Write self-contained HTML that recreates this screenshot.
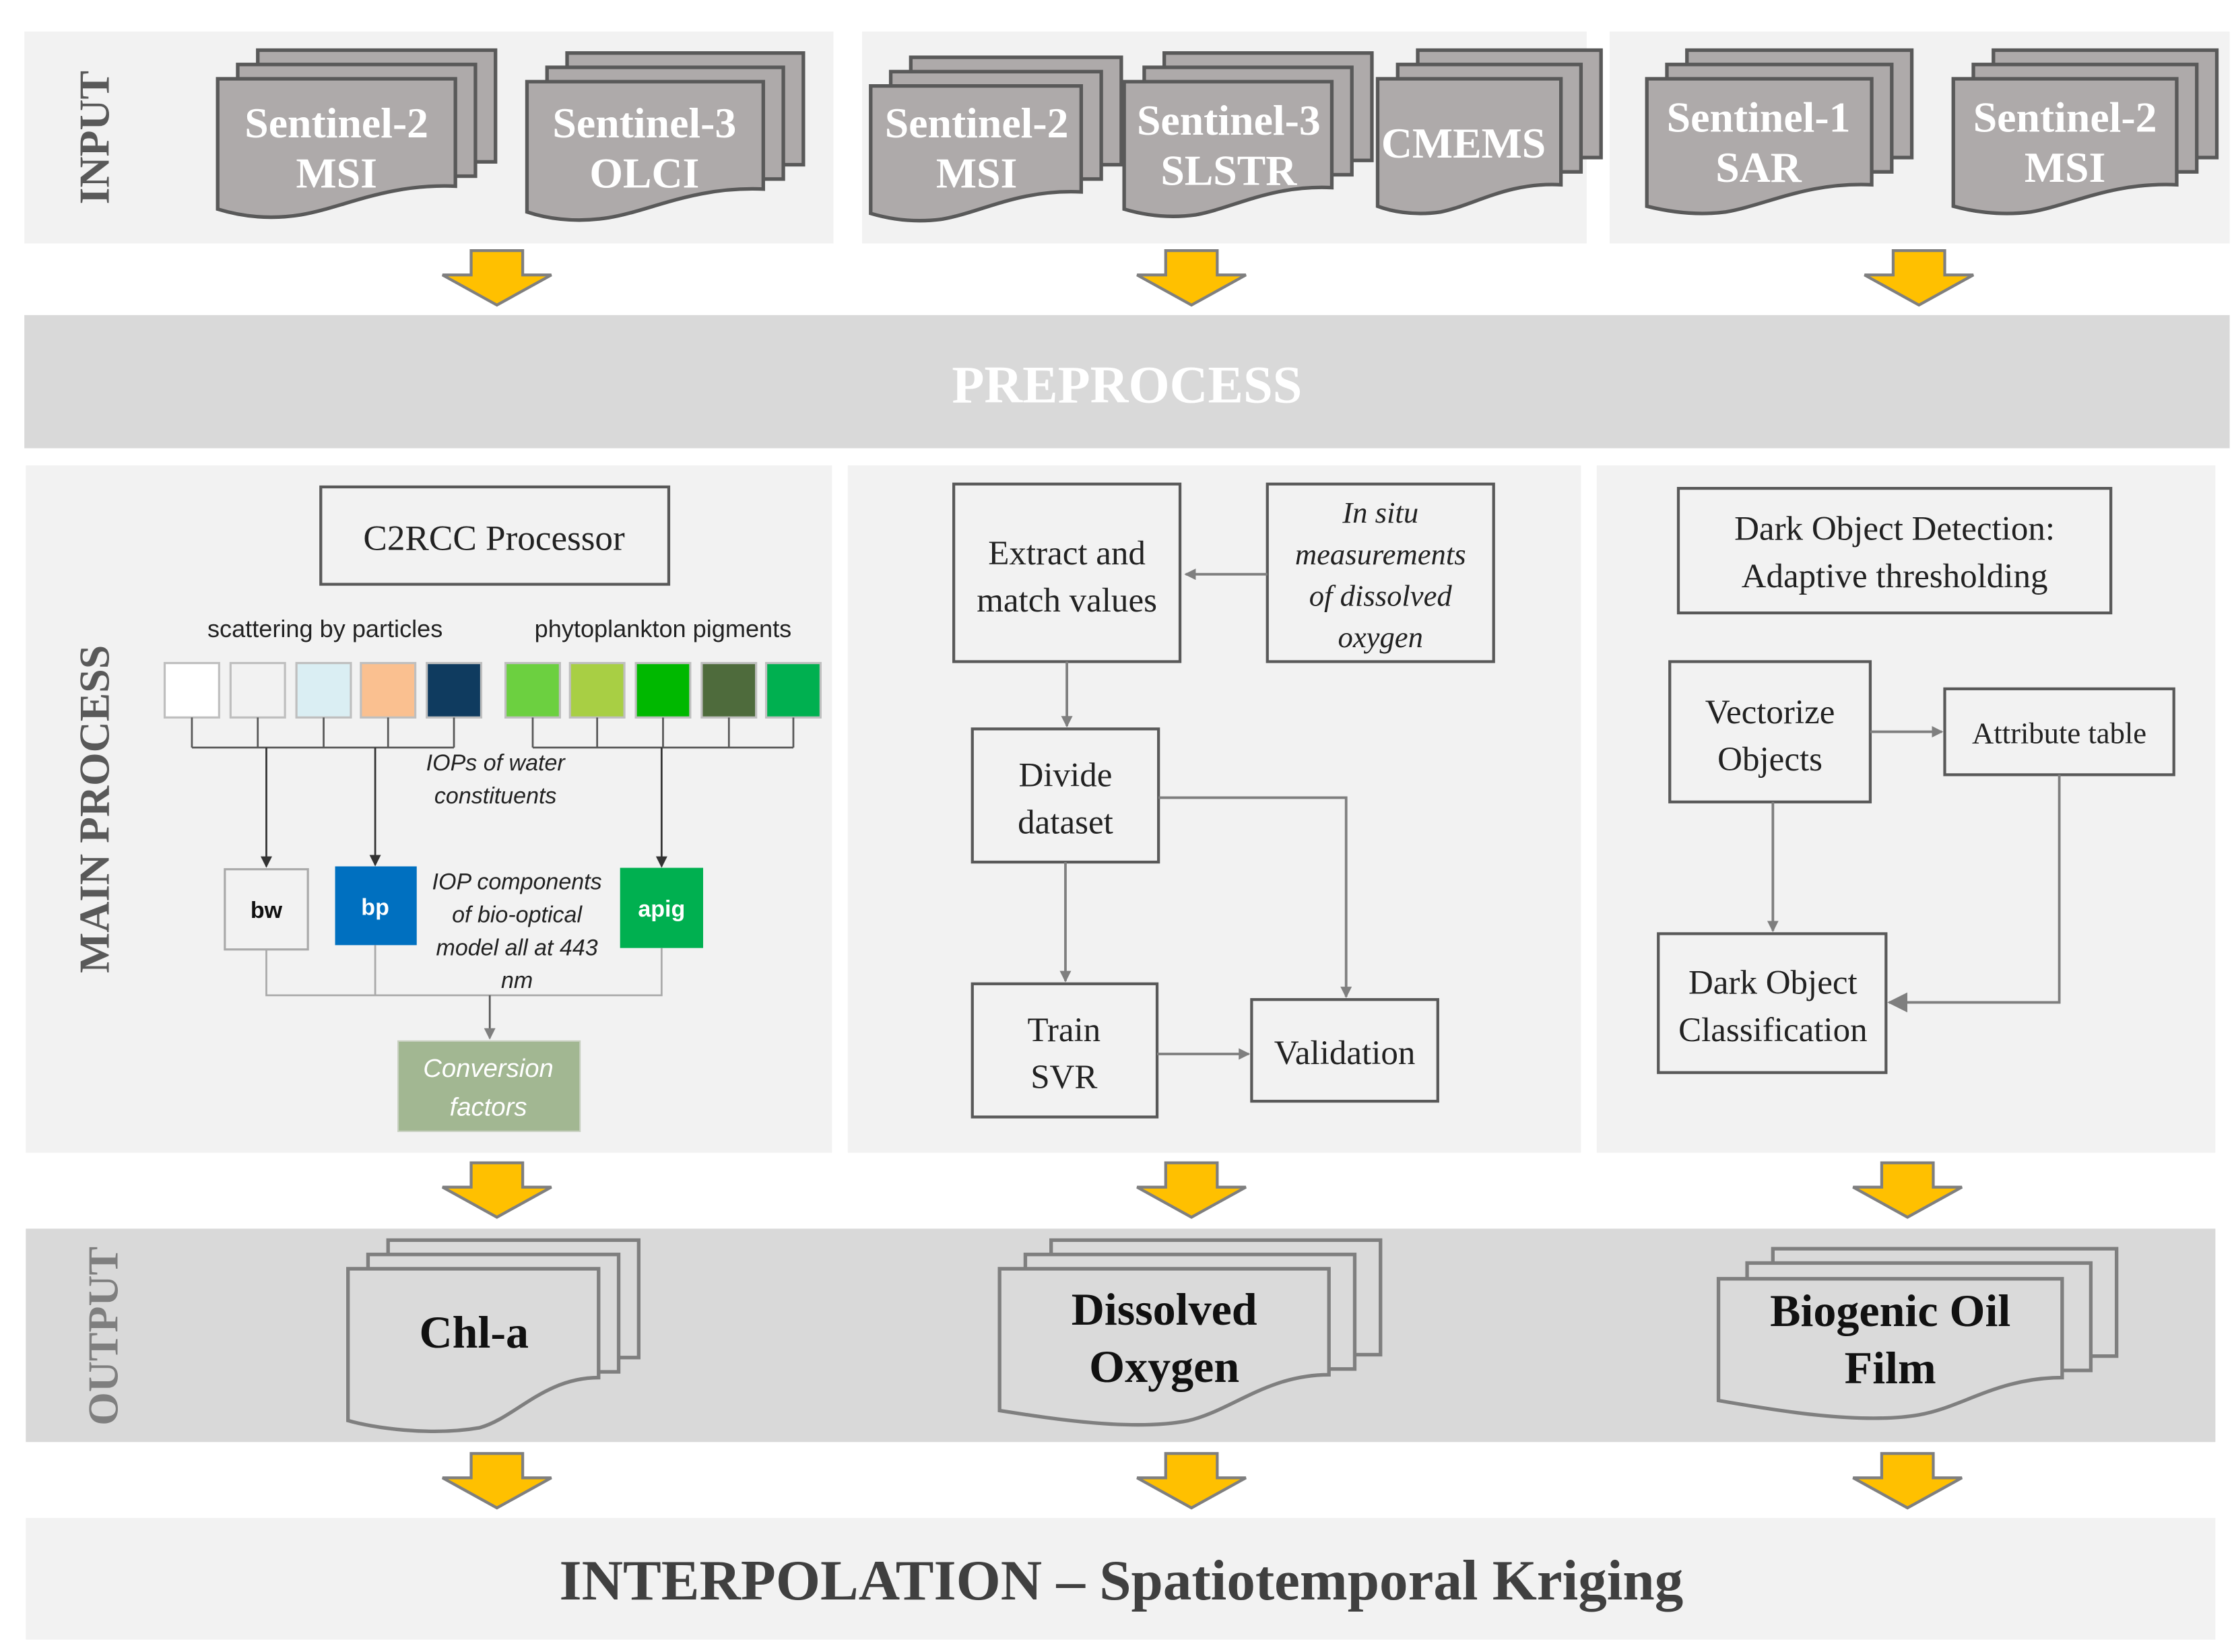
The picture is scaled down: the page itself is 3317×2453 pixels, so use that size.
<!DOCTYPE html>
<html><head><meta charset="utf-8"><style>
html,body{margin:0;padding:0;background:#fff}
svg{display:block}
.s{font-family:"Liberation Serif",serif}
.a{font-family:"Liberation Sans",sans-serif}
</style></head><body>
<svg width="3317" height="2453" viewBox="0 0 1560 1153.6" xmlns="http://www.w3.org/2000/svg">
<defs>
<marker id="ar" markerWidth="8" markerHeight="8" refX="7" refY="4" orient="auto" markerUnits="userSpaceOnUse"><path d="M0,0 L8,4 L0,8 z" fill="#7f7f7f"/></marker>
<marker id="ak" markerWidth="8" markerHeight="8" refX="7" refY="4" orient="auto" markerUnits="userSpaceOnUse"><path d="M0,0 L8,4 L0,8 z" fill="#333"/></marker>
<marker id="ab" markerWidth="14" markerHeight="14" refX="13" refY="7" orient="auto" markerUnits="userSpaceOnUse"><path d="M0,0 L14,7 L0,14 z" fill="#7f7f7f"/></marker>
</defs>
<rect width="1560" height="1153.6" fill="#fff"/>
<rect x="17" y="22" width="565" height="148" fill="#f2f2f2"/>
<rect x="602" y="22" width="506" height="148" fill="#f2f2f2"/>
<rect x="1124" y="22" width="433" height="148" fill="#f2f2f2"/>
<text class="s" transform="translate(76,96) rotate(-90)" text-anchor="middle" font-size="30" font-weight="bold" fill="#595959">INPUT</text>

<g stroke="#595959" stroke-width="2.5" fill="#aeaaaa">
<g><rect x="180" y="35" width="166" height="78"/><rect x="166" y="45" width="166" height="78"/>
<path d="M152,55 H318 V130 C270,128 240,145 210,150 C185,154 165,150 152,146 Z"/></g>
<g><rect x="396" y="37" width="165" height="78"/><rect x="382" y="47" width="165" height="78"/>
<path d="M368,57 H533 V132 C485,130 455,147 425,152 C400,156 380,152 368,148 Z"/></g>
<g><rect x="636" y="40" width="147" height="75"/><rect x="622" y="50" width="147" height="75"/>
<path d="M608,60 H755 V134 C712,132 686,148 658,153 C636,156 618,152 608,149 Z"/></g>
<g><rect x="813" y="37" width="145" height="75"/><rect x="799" y="47" width="145" height="75"/>
<path d="M785,57 H930 V131 C888,129 862,145 835,150 C813,153 795,149 785,146 Z"/></g>
<g><rect x="990" y="35" width="128" height="75"/><rect x="976" y="45" width="128" height="75"/>
<path d="M962,55 H1090 V129 C1053,127 1030,143 1006,148 C986,151 970,147 962,144 Z"/></g>
<g><rect x="1178" y="35" width="157" height="75"/><rect x="1164" y="45" width="157" height="75"/>
<path d="M1150,55 H1307 V129 C1262,127 1234,143 1205,148 C1182,151 1162,147 1150,144 Z"/></g>
<g><rect x="1392" y="35" width="156" height="75"/><rect x="1378" y="45" width="156" height="75"/>
<path d="M1364,55 H1520 V129 C1475,127 1447,143 1418,148 C1395,151 1375,147 1364,144 Z"/></g>
</g>
<g class="s" font-size="30" font-weight="bold" fill="#fff" text-anchor="middle">
<text x="235" y="96">Sentinel-2</text><text x="235" y="131">MSI</text>
<text x="450" y="96">Sentinel-3</text><text x="450" y="131">OLCI</text>
<text x="682" y="96">Sentinel-2</text><text x="682" y="131">MSI</text>
<text x="858" y="94">Sentinel-3</text><text x="858" y="129">SLSTR</text>
<text x="1022" y="110">CMEMS</text>
<text x="1228" y="92">Sentinel-1</text><text x="1228" y="127">SAR</text>
<text x="1442" y="92">Sentinel-2</text><text x="1442" y="127">MSI</text>
</g>

<g fill="#ffc000" stroke="#7f7f7f" stroke-width="2">
<path d="M329,175 h36 v17 h20 l-38,21 l-38,-21 h20 z"/>
<path d="M814,175 h36 v17 h20 l-38,21 l-38,-21 h20 z"/>
<path d="M1322,175 h36 v17 h20 l-38,21 l-38,-21 h20 z"/>
<path d="M329,812 h36 v17 h20 l-38,21 l-38,-21 h20 z"/>
<path d="M814,812 h36 v17 h20 l-38,21 l-38,-21 h20 z"/>
<path d="M1314,812 h36 v17 h20 l-38,21 l-38,-21 h20 z"/>
<path d="M329,1015 h36 v17 h20 l-38,21 l-38,-21 h20 z"/>
<path d="M814,1015 h36 v17 h20 l-38,21 l-38,-21 h20 z"/>
<path d="M1314,1015 h36 v17 h20 l-38,21 l-38,-21 h20 z"/>
</g>

<rect x="17" y="220" width="1540" height="93" fill="#d9d9d9"/>
<text class="s" x="787" y="281" text-anchor="middle" font-size="37" font-weight="bold" fill="#fff">PREPROCESS</text>

<rect x="18" y="325" width="563" height="480" fill="#f2f2f2"/>
<rect x="592" y="325" width="512" height="480" fill="#f2f2f2"/>
<rect x="1115" y="325" width="432" height="480" fill="#f2f2f2"/>
<text class="s" transform="translate(76,565) rotate(-90)" text-anchor="middle" font-size="30" font-weight="bold" fill="#595959">MAIN PROCESS</text>

<rect x="224" y="340" width="243" height="68" fill="#f2f2f2" stroke="#595959" stroke-width="2"/>
<text class="s" x="345" y="384" text-anchor="middle" font-size="25" fill="#222">C2RCC Processor</text>
<g class="a" font-size="17" fill="#222" text-anchor="middle">
<text x="227" y="445">scattering by particles</text>
<text x="463" y="445">phytoplankton pigments</text></g>
<g stroke="#bfbfbf" stroke-width="1.5">
<rect x="115" y="463" width="38" height="38" fill="#ffffff"/>
<rect x="161" y="463" width="38" height="38" fill="#f2f2f2"/>
<rect x="207" y="463" width="38" height="38" fill="#daeef3"/>
<rect x="252" y="463" width="38" height="38" fill="#fac090"/>
<rect x="298" y="463" width="38" height="38" fill="#0f3b5f"/>
<rect x="353" y="463" width="38" height="38" fill="#6cd040"/>
<rect x="398" y="463" width="38" height="38" fill="#a8cf44"/>
<rect x="444" y="463" width="38" height="38" fill="#00b800"/>
<rect x="490" y="463" width="38" height="38" fill="#4e6b3c"/>
<rect x="535" y="463" width="38" height="38" fill="#00b050"/>
</g>
<g stroke="#595959" stroke-width="1.3" fill="none">
<path d="M134,501 V522 M180,501 V522 M226,501 V522 M271,501 V522 M317,501 V522 M134,522 H317"/>
<path d="M372,501 V522 M417,501 V522 M463,501 V522 M509,501 V522 M554,501 V522 M372,522 H554"/>
</g>
<g stroke="#333" stroke-width="1.3" fill="none">
<path d="M186,522 V605" marker-end="url(#ak)"/>
<path d="M262,522 V604" marker-end="url(#ak)"/>
<path d="M462,522 V605" marker-end="url(#ak)"/>
</g>
<g class="a" font-size="16" font-style="italic" fill="#222" text-anchor="middle">
<text x="346" y="538">IOPs of water</text><text x="346" y="561">constituents</text>
<text x="361" y="621">IOP components</text><text x="361" y="644">of bio-optical</text>
<text x="361" y="667">model all at 443</text><text x="361" y="690">nm</text></g>
<rect x="157" y="607" width="58" height="56" fill="#f2f2f2" stroke="#aaaaaa" stroke-width="1.5"/>
<rect x="234" y="605" width="57" height="55" fill="#0070c0"/>
<rect x="433" y="606" width="58" height="56" fill="#00b050"/>
<g class="a" font-size="16" font-weight="bold" text-anchor="middle">
<text x="186" y="641" fill="#111">bw</text><text x="262" y="639" fill="#fff">bp</text><text x="462" y="640" fill="#fff">apig</text></g>
<g stroke="#aaaaaa" stroke-width="1.3" fill="none"><path d="M186,663 V695 H462 V662 M262,660 V695"/></g>
<path d="M342,695 V725" stroke="#595959" stroke-width="1.3" marker-end="url(#ar)"/>
<rect x="278" y="727" width="127" height="63" fill="#a2b792" stroke="#c8d0c0" stroke-width="1"/>
<g class="a" font-size="18" font-style="italic" fill="#fff" text-anchor="middle">
<text x="341" y="752">Conversion</text><text x="341" y="779">factors</text></g>

<g fill="#f2f2f2" stroke="#595959" stroke-width="2">
<rect x="666" y="338" width="158" height="124"/>
<rect x="885" y="338" width="158" height="124"/>
<rect x="679" y="509" width="130" height="93"/>
<rect x="679" y="687" width="129" height="93"/>
<rect x="874" y="698" width="130" height="71"/>
</g>
<g class="s" font-size="24" fill="#222" text-anchor="middle">
<text x="745" y="394">Extract and</text><text x="745" y="427">match values</text>
<text x="744" y="549">Divide</text><text x="744" y="582">dataset</text>
<text x="743" y="727">Train</text><text x="743" y="760">SVR</text>
<text x="939" y="743">Validation</text></g>
<g class="s" font-size="21" font-style="italic" fill="#222" text-anchor="middle">
<text x="964" y="365">In situ</text><text x="964" y="394">measurements</text><text x="964" y="423">of dissolved</text><text x="964" y="452">oxygen</text></g>
<g stroke="#7f7f7f" stroke-width="1.8" fill="none">
<path d="M885,401 H828" marker-end="url(#ar)"/>
<path d="M745,462 V507" marker-end="url(#ar)"/>
<path d="M744,602 V685" marker-end="url(#ar)"/>
<path d="M809,557 H940 V696" marker-end="url(#ar)"/>
<path d="M808,736 H872" marker-end="url(#ar)"/>
</g>

<g fill="#f2f2f2" stroke="#595959" stroke-width="2">
<rect x="1172" y="341" width="302" height="87"/>
<rect x="1166" y="462" width="140" height="98"/>
<rect x="1358" y="481" width="160" height="60"/>
<rect x="1158" y="652" width="159" height="97"/>
</g>
<g class="s" font-size="24" fill="#222" text-anchor="middle">
<text x="1323" y="377">Dark Object Detection:</text><text x="1323" y="410">Adaptive thresholding</text>
<text x="1236" y="505">Vectorize</text><text x="1236" y="538">Objects</text>
<text x="1238" y="694">Dark Object</text><text x="1238" y="727">Classification</text></g>
<text class="s" x="1438" y="519" text-anchor="middle" font-size="21" fill="#222">Attribute table</text>
<g stroke="#7f7f7f" stroke-width="1.8" fill="none">
<path d="M1306,511 H1356" marker-end="url(#ar)"/>
<path d="M1238,560 V650" marker-end="url(#ar)"/>
<path d="M1438,541 V700 H1319" marker-end="url(#ab)"/>
</g>

<rect x="18" y="858" width="1529" height="149" fill="#d9d9d9"/>
<text class="s" transform="translate(82,933) rotate(-90)" text-anchor="middle" font-size="30" font-weight="bold" fill="#7f7f7f">OUTPUT</text>
<g stroke="#7f7f7f" stroke-width="2.5" fill="#dadada">
<g><rect x="271" y="866" width="175" height="82"/><rect x="257" y="876" width="175" height="82"/>
<path d="M243,886 H418 V962 C380,962 360,990 335,997 C300,1003 260,997 243,992 Z"/></g>
<g><rect x="734" y="866" width="230" height="80"/><rect x="716" y="876" width="230" height="80"/>
<path d="M698,886 H928 V960 C885,960 860,985 830,992 C790,1000 730,990 698,985 Z"/></g>
<g><rect x="1238" y="872" width="240" height="75"/><rect x="1220" y="882" width="240" height="75"/>
<path d="M1200,893 H1440 V962 C1395,962 1370,983 1340,988 C1300,995 1240,985 1200,978 Z"/></g>
</g>
<g class="s" font-size="32" font-weight="bold" fill="#111" text-anchor="middle">
<text x="331" y="941">Chl-a</text>
<text x="813" y="925">Dissolved</text><text x="813" y="965">Oxygen</text>
<text x="1320" y="926">Biogenic Oil</text><text x="1320" y="966">Film</text></g>

<rect x="18" y="1060" width="1529" height="85" fill="#f2f2f2"/>
<text class="s" x="783" y="1117" text-anchor="middle" font-size="40" font-weight="bold" fill="#404040">INTERPOLATION – Spatiotemporal Kriging</text>
</svg>
</body></html>
